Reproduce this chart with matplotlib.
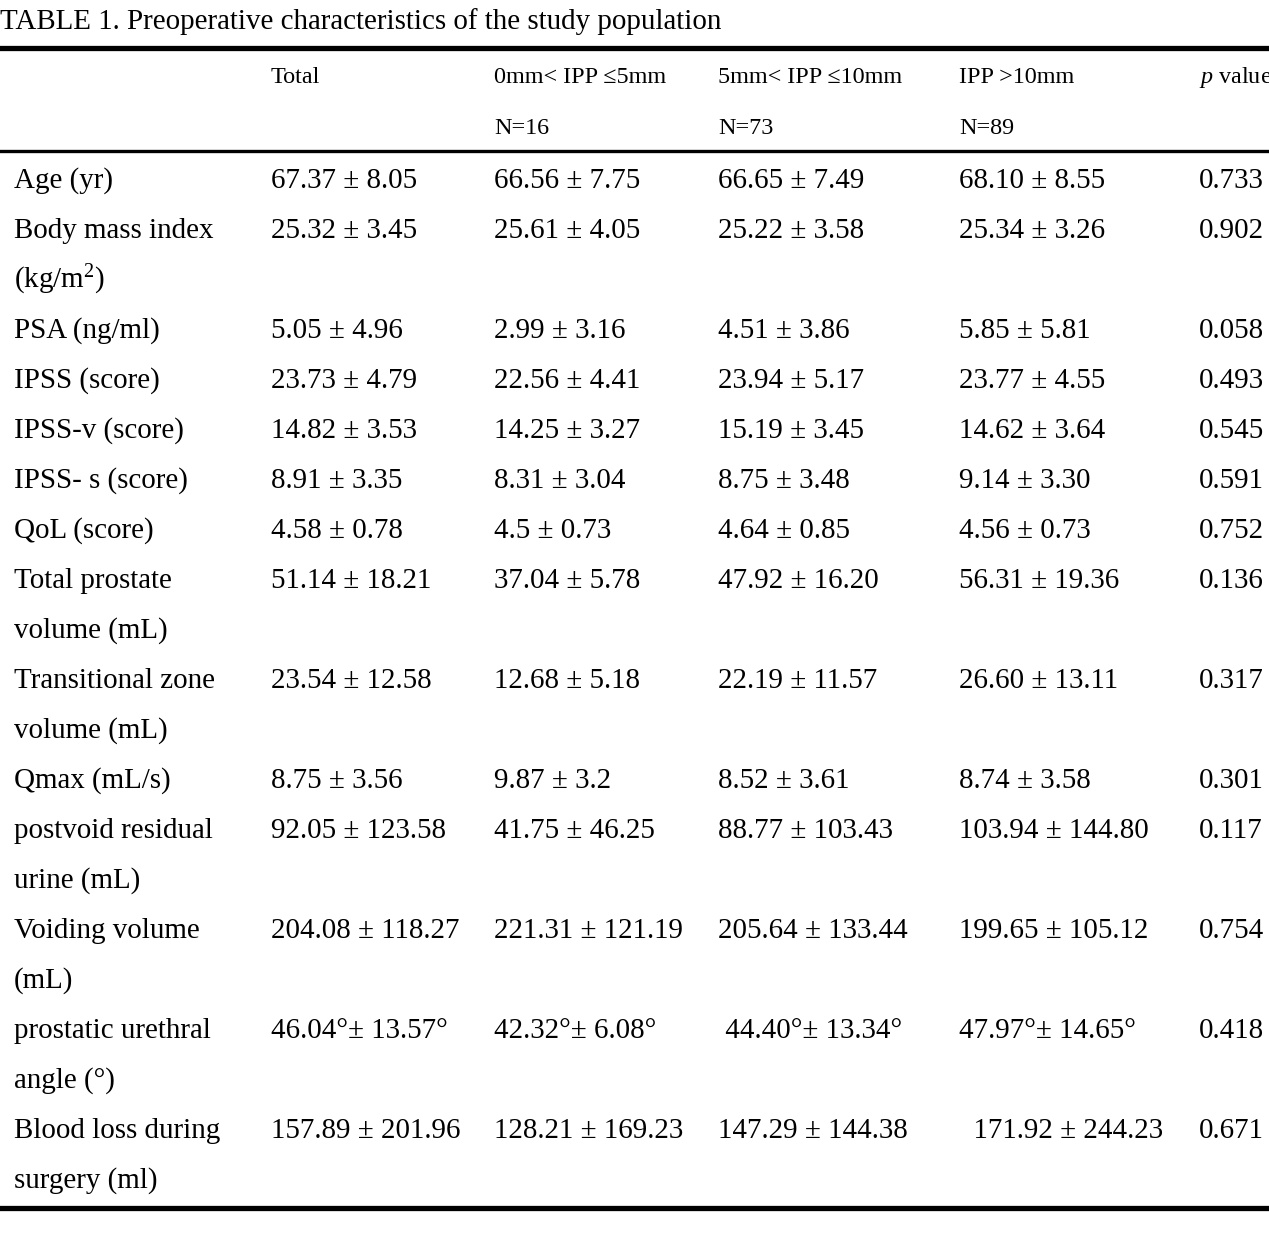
import matplotlib
matplotlib.use("Agg")
import matplotlib.pyplot as plt

plt.rcParams['font.family'] = ['Liberation Serif', 'DejaVu Serif']
plt.rcParams['mathtext.fontset'] = 'custom'
plt.rcParams['mathtext.rm'] = 'Liberation Serif'
plt.rcParams['mathtext.it'] = 'Liberation Serif:italic'

title = "TABLE 1. Preoperative characteristics of the study population"

header_top = ["", "Total", "0mm< IPP \u22645mm", "5mm< IPP \u226410mm", "IPP >10mm", r"$\mathit{p}$ value"]
header_n = ["", "", "N=16", "N=73", "N=89", ""]

# One entry per text line; continuation lines have empty value cells
labels = ["Age (yr)", "Body mass index", r"(kg/m$^{\mathrm{2}}$)", "PSA (ng/ml)", "IPSS (score)",
          "IPSS-v (score)", "IPSS- s (score)", "QoL (score)", "Total prostate", "volume (mL)",
          "Transitional zone", "volume (mL)", "Qmax (mL/s)", "postvoid residual", "urine (mL)",
          "Voiding volume", "(mL)", "prostatic urethral", "angle (\u00b0)", "Blood loss during",
          "surgery (ml)"]

total = ["67.37 \u00b1 8.05", "25.32 \u00b1 3.45", "", "5.05 \u00b1 4.96", "23.73 \u00b1 4.79",
         "14.82 \u00b1 3.53", "8.91 \u00b1 3.35", "4.58 \u00b1 0.78", "51.14 \u00b1 18.21", "",
         "23.54 \u00b1 12.58", "", "8.75 \u00b1 3.56", "92.05 \u00b1 123.58", "",
         "204.08 \u00b1 118.27", "", "46.04\u00b0\u00b1 13.57\u00b0", "", "157.89 \u00b1 201.96", ""]
ipp_0_5 = ["66.56 \u00b1 7.75", "25.61 \u00b1 4.05", "", "2.99 \u00b1 3.16", "22.56 \u00b1 4.41",
           "14.25 \u00b1 3.27", "8.31 \u00b1 3.04", "4.5 \u00b1 0.73", "37.04 \u00b1 5.78", "",
           "12.68 \u00b1 5.18", "", "9.87 \u00b1 3.2", "41.75 \u00b1 46.25", "",
           "221.31 \u00b1 121.19", "", "42.32\u00b0\u00b1 6.08\u00b0", "", "128.21 \u00b1 169.23", ""]
ipp_5_10 = ["66.65 \u00b1 7.49", "25.22 \u00b1 3.58", "", "4.51 \u00b1 3.86", "23.94 \u00b1 5.17",
            "15.19 \u00b1 3.45", "8.75 \u00b1 3.48", "4.64 \u00b1 0.85", "47.92 \u00b1 16.20", "",
            "22.19 \u00b1 11.57", "", "8.52 \u00b1 3.61", "88.77 \u00b1 103.43", "",
            "205.64 \u00b1 133.44", "", " 44.40\u00b0\u00b1 13.34\u00b0", "", "147.29 \u00b1 144.38", ""]
ipp_gt10 = ["68.10 \u00b1 8.55", "25.34 \u00b1 3.26", "", "5.85 \u00b1 5.81", "23.77 \u00b1 4.55",
            "14.62 \u00b1 3.64", "9.14 \u00b1 3.30", "4.56 \u00b1 0.73", "56.31 \u00b1 19.36", "",
            "26.60 \u00b1 13.11", "", "8.74 \u00b1 3.58", "103.94 \u00b1 144.80", "",
            "199.65 \u00b1 105.12", "", "47.97\u00b0\u00b1 14.65\u00b0", "", "  171.92 \u00b1 244.23", ""]
p_values = ["0.733", "0.902", "", "0.058", "0.493", "0.545", "0.591", "0.752", "0.136", "",
            "0.317", "", "0.301", "0.117", "", "0.754", "", "0.418", "", "0.671", ""]

W, H = 1269, 1255
fig = plt.figure(figsize=(W / 100, H / 100), dpi=100)
ax = fig.add_axes([0, 0, 1, 1])
ax.set_xlim(0, W)
ax.set_ylim(H, 0)
ax.axis('off')

col_x = [14, 271, 494, 718, 959, 1199]
body_fs = 20.9
head_fs = 17.4

ax.text(0, 29, title, fontsize=body_fs, ha='left', va='baseline')

ax.axhline(47.5, color='black', lw=3.8)
ax.axhline(151, color='black', lw=2.4)
ax.axhline(1208, color='black', lw=3.8)

for x, t in zip(col_x, header_top):
    if t:
        ax.text(x, 83, t, fontsize=head_fs, ha='left', va='baseline')
for x, t in zip(col_x, header_n):
    if t:
        ax.text(x, 134, t, fontsize=head_fs, ha='left', va='baseline')

columns = [labels, total, ipp_0_5, ipp_5_10, ipp_gt10, p_values]
y0, dy = 188, 50.0
for x, col in zip(col_x, columns):
    for i, t in enumerate(col):
        if t:
            ax.text(x, y0 + dy * i, t, fontsize=body_fs, ha='left', va='baseline')

fig.savefig("out.png", dpi=100, facecolor='white')
